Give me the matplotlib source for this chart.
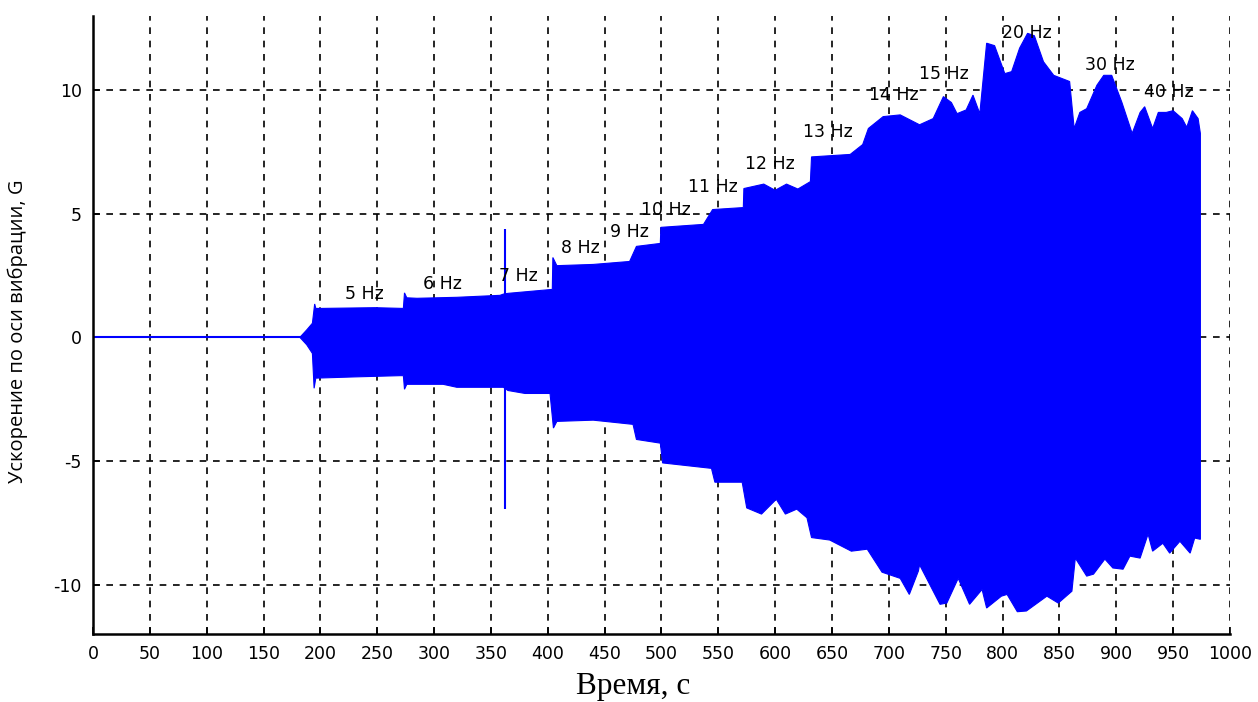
import matplotlib
matplotlib.use("Agg")
import matplotlib.pyplot as plt
import numpy as np

plt.rcParams["axes.unicode_minus"] = False

# upper envelope of the vibration signal (time, s -> acceleration, G)
t_upper = [0, 182, 188, 193, 195, 196, 200, 248, 273, 274, 276, 285, 320, 358, 361, 365, 404, 404.5,
           408, 440, 472, 478, 499, 499.5, 537, 545, 572, 572.5, 590, 600, 610, 620, 631, 632,
           666, 677, 682, 695, 710, 727, 739, 748, 755, 760, 768, 774, 780, 786, 793, 802, 808,
           815, 822, 828, 836, 845, 859, 863, 868, 874, 883, 889, 896, 905, 914, 921, 925, 932,
           937, 944, 950, 958, 962, 967, 972, 974]
g_upper = [0, 0, 0.3, 0.57, 1.35, 1.17, 1.17, 1.2, 1.17, 1.8, 1.6, 1.58, 1.62, 1.7, 1.75, 1.78, 1.94, 3.23,
           2.9, 2.95, 3.07, 3.68, 3.8, 4.45, 4.57, 5.17, 5.25, 6.02, 6.2, 5.95, 6.2, 6.0, 6.3, 7.3,
           7.4, 7.8, 8.45, 8.93, 9.0, 8.6, 8.85, 9.74, 9.5, 9.05, 9.2, 9.8, 9.05, 11.9, 11.8, 10.67, 10.75,
           11.7, 12.3, 12.2, 11.15, 10.6, 10.35, 8.45, 9.1, 9.25, 10.2, 10.6, 10.6, 9.5, 8.25, 9.1, 9.33, 8.45,
           9.1, 9.1, 9.17, 8.85, 8.5, 9.17, 8.85, 8.25]

# lower envelope
t_lower = [0, 182, 188, 193, 194.5, 196, 230, 270, 273, 274, 276, 308, 320, 361, 365, 380, 402, 405,
           408, 440, 475, 478, 499, 501, 544, 547, 571, 575, 588, 601, 609, 619, 628, 632,
           648, 667, 681, 694, 710, 718, 726, 727, 745, 751, 761, 771, 782, 786, 799, 804, 813,
           821, 839, 849, 861, 864, 874, 880, 890, 897, 906, 912, 921, 928, 932, 941, 947, 956,
           965, 969, 974]
g_lower = [0, 0, -0.3, -0.65, -2.06, -1.65, -1.6, -1.55, -1.55, -2.1, -1.9, -1.9, -2.02, -2.02, -2.15, -2.27, -2.27, -3.67,
           -3.4, -3.35, -3.52, -4.13, -4.28, -5.08, -5.3, -5.86, -5.86, -6.9, -7.15, -6.55, -7.15, -6.95, -7.3, -8.1,
           -8.2, -8.65, -8.57, -9.5, -9.75, -10.4, -9.45, -9.2, -10.8, -10.75, -9.75, -10.8, -10.2, -10.95, -10.47, -10.4, -11.1,
           -11.07, -10.47, -10.75, -10.27, -8.93, -9.66, -9.58, -8.97, -9.33, -9.38, -8.85, -8.93, -7.96, -8.65, -8.33, -8.73, -8.25,
           -8.73, -8.12, -8.17]

# single spike at the 7 Hz step
spike_t = 362
spike_range = (-6.95, 4.37)

# frequency labels
label_text = ["5 Hz", "6 Hz", "7 Hz", "8 Hz", "9 Hz", "10 Hz", "11 Hz", "12 Hz",
              "13 Hz", "14 Hz", "15 Hz", "20 Hz", "30 Hz", "40 Hz"]
label_t = [239, 307, 374, 429, 472, 504, 545, 595, 646, 704, 748, 821, 894, 946]
label_g = [1.74, 2.14, 2.5, 3.6, 4.28, 5.17, 6.1, 7.0, 8.3, 9.8, 10.67, 12.33, 11.0, 9.94]

x_ticks = list(range(0, 1001, 50))
y_ticks = [-10, -5, 0, 5, 10]

fig = plt.figure(figsize=(12.58, 7.02), dpi=100)
ax = fig.add_axes([0.0739, 0.0969, 0.9038, 0.8803])

blue = "#0000ff"
poly_t = np.r_[t_upper, t_lower[::-1]]
poly_g = np.r_[g_upper, g_lower[::-1]]
ax.fill(poly_t, poly_g, color=blue, lw=0.8, zorder=2)
ax.plot(t_upper[:2], g_upper[:2], color=blue, lw=1.5, zorder=2)
ax.vlines(spike_t, *spike_range, color=blue, lw=1.5, zorder=2)

for txt, t, g in zip(label_text, label_t, label_g):
    ax.text(t, g, txt, ha="center", va="center", fontsize=12.5,
            family="DejaVu Sans", color="black", zorder=4)

ax.set_xlim(0, 1000)
ax.set_ylim(-12, 13)
ax.set_xticks(x_ticks)
ax.set_yticks(y_ticks)
ax.grid(True, color="black", linestyle=(0, (4, 4)), lw=1.2, zorder=1)
ax.set_axisbelow(True)
for side in ("top", "right"):
    ax.spines[side].set_visible(False)
for side in ("left", "bottom"):
    ax.spines[side].set_linewidth(1.8)
ax.tick_params(direction="in", length=5, width=1.2, labelsize=12.5, pad=8)
for lab in ax.get_xticklabels() + ax.get_yticklabels():
    lab.set_family("DejaVu Sans")

ax.set_xlabel("Время, с", family="Liberation Serif", fontsize=22.5)
ax.xaxis.set_label_coords(0.475, -0.062)
ax.set_ylabel("Ускорение по оси вибрации, G", family="Open Sans", fontsize=14.5)
ax.yaxis.set_label_coords(-0.057, 0.49)

fig.savefig("out.png", dpi=100)
